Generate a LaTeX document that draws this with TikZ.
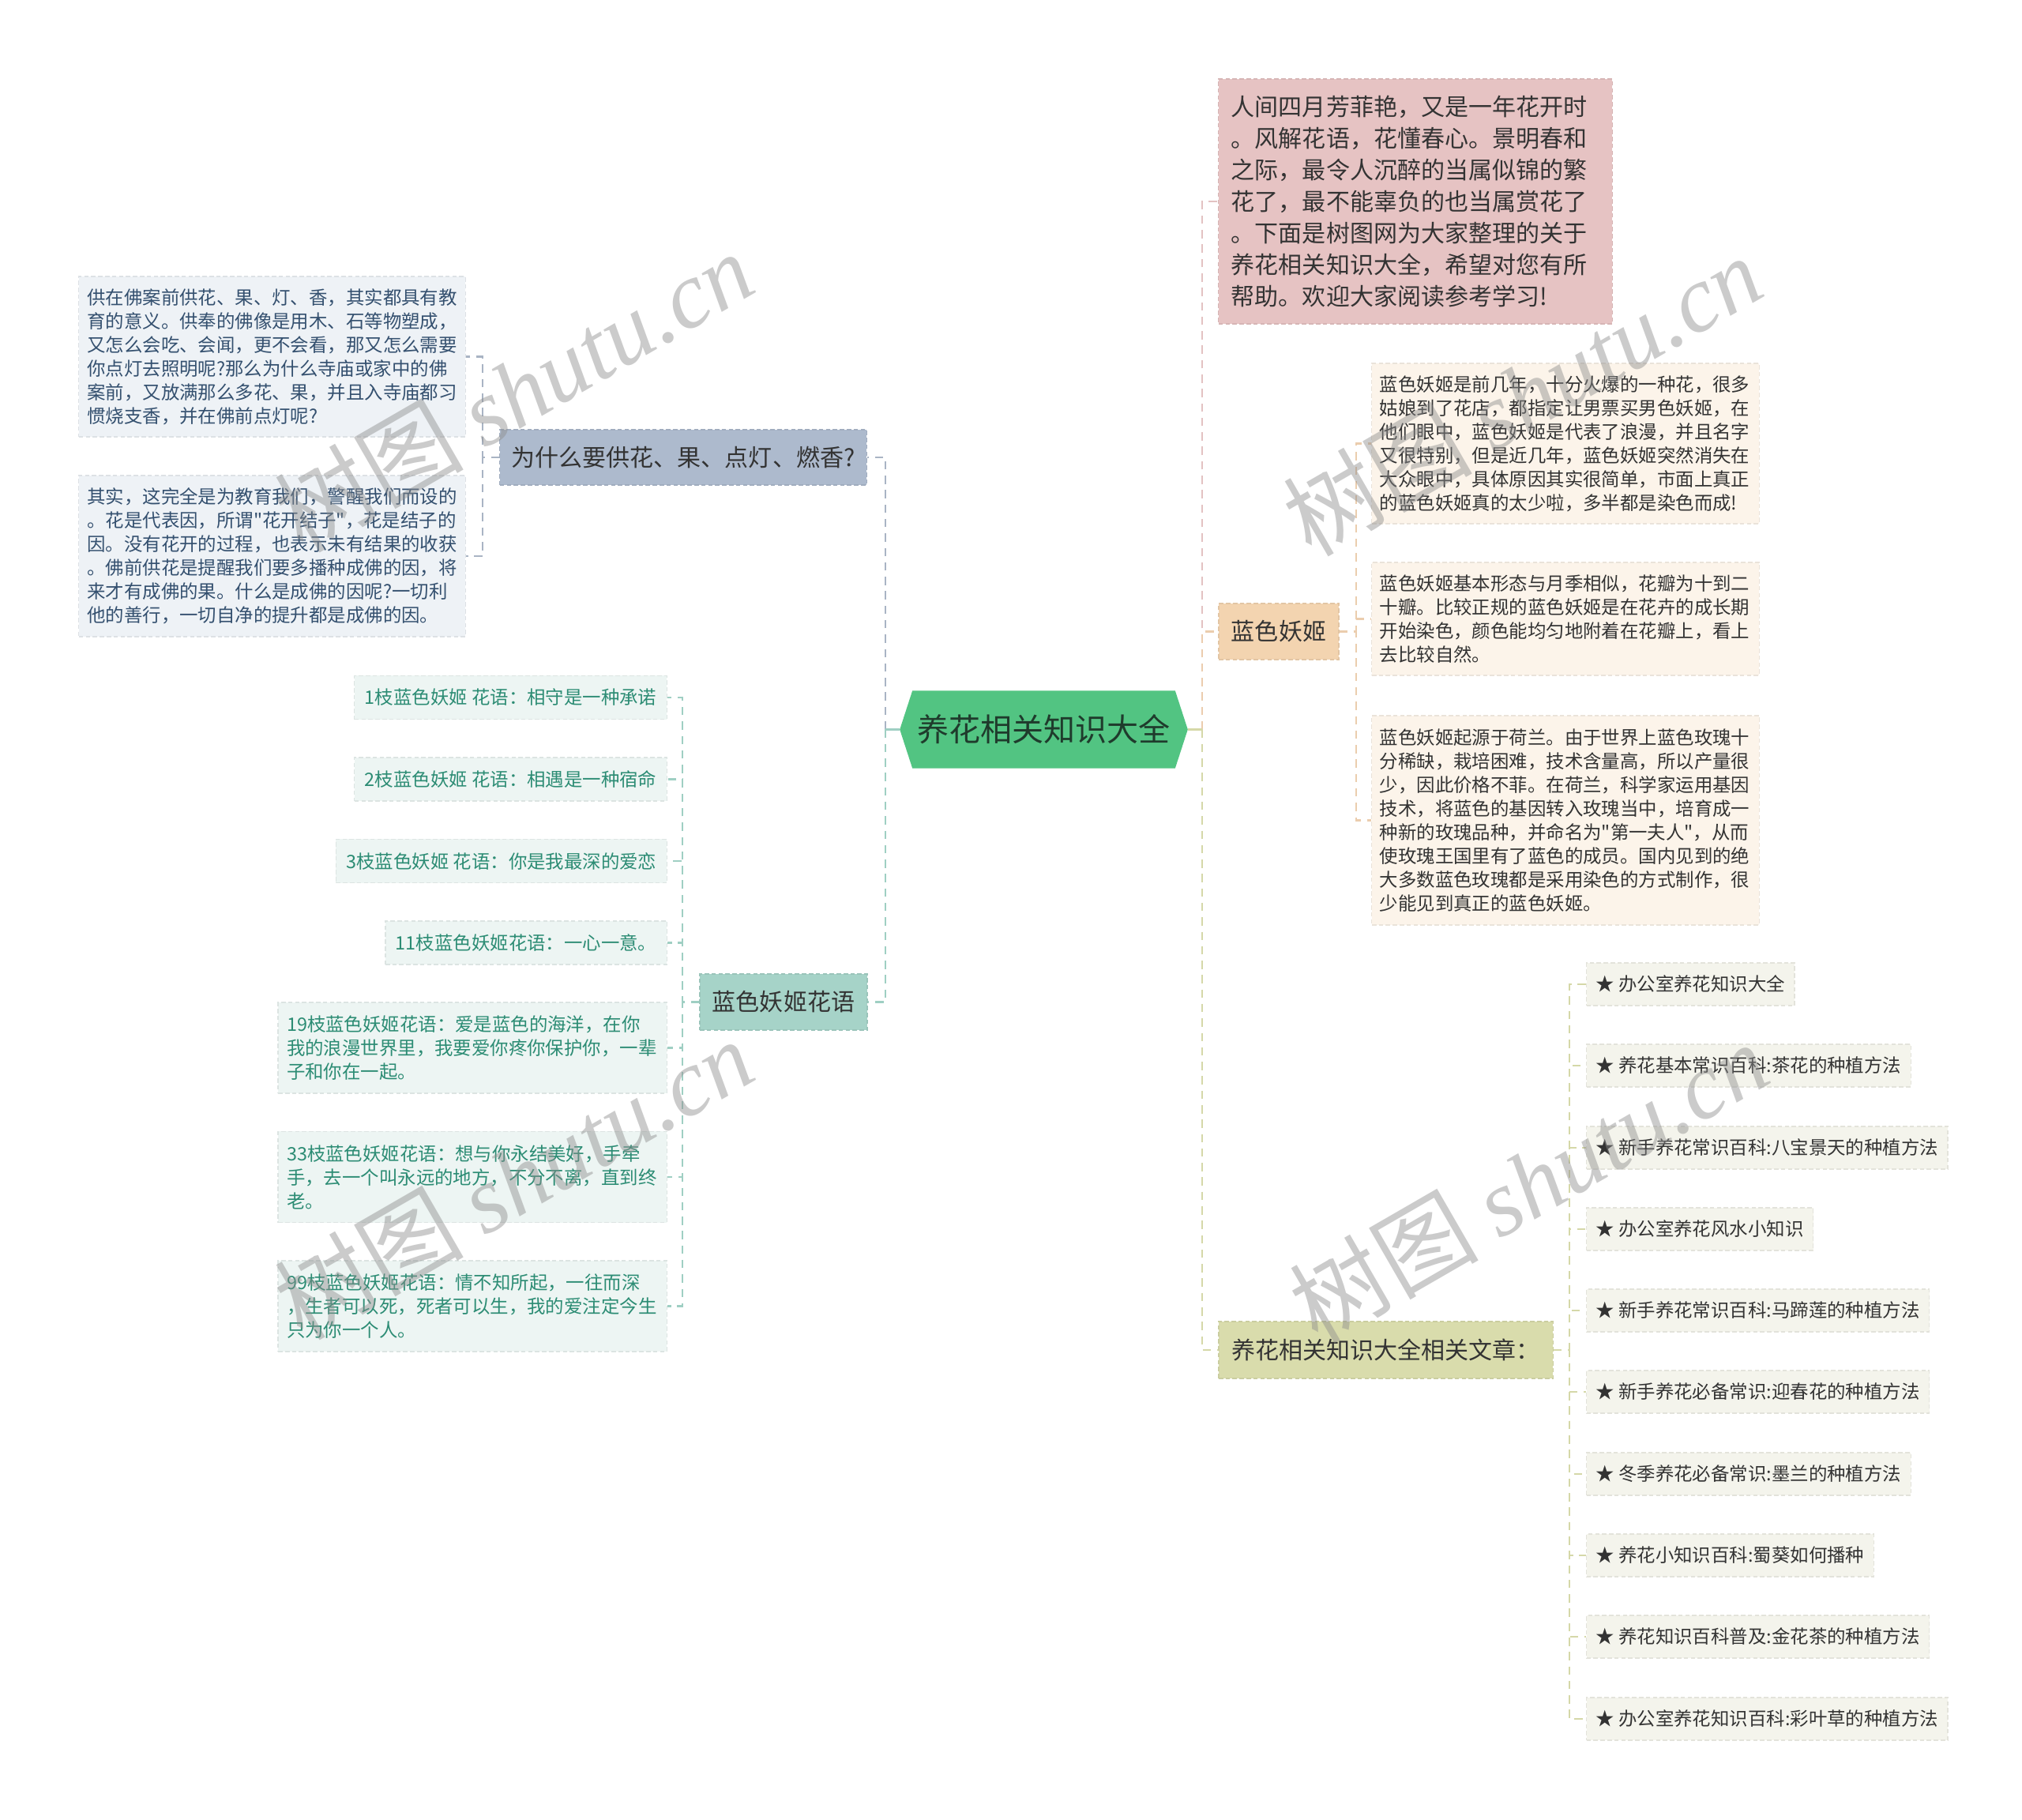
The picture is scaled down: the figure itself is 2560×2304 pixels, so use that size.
\documentclass[tikz,border=0pt]{standalone}
\usepackage{fontspec}
\setmainfont{Noto Sans CJK SC}[Ligatures=TeXOff]
\newfontfamily\wmlatin{Liberation Serif}
\usetikzlibrary{backgrounds}
\definecolor{rootfill}{HTML}{52C482}
\definecolor{roottext}{HTML}{1F3B2C}
\definecolor{bonefill}{HTML}{ADBACD}
\definecolor{btwofill}{HTML}{A6D3C8}
\definecolor{introfill}{HTML}{E6C3C3}
\definecolor{bfourfill}{HTML}{F3D4B0}
\definecolor{bfivefill}{HTML}{D9DCAC}
\definecolor{lfill}{HTML}{EEF2F6}
\definecolor{ltext}{HTML}{34506F}
\definecolor{tfill}{HTML}{EDF5F3}
\definecolor{ttext}{HTML}{2C8C74}
\definecolor{pfill}{HTML}{FCF4EA}
\definecolor{afill}{HTML}{F4F4EC}
\definecolor{darktext}{HTML}{333333}
\definecolor{cone}{HTML}{A9B4C4}
\definecolor{ctwo}{HTML}{9FCFC3}
\definecolor{cintro}{HTML}{E3C2C2}
\definecolor{cfour}{HTML}{EBCDAE}
\definecolor{cfive}{HTML}{D5D8A8}
\newcommand\ftleaf{\fontsize{6.66pt}{8.54pt}\selectfont}
\newcommand\ftbranch{\fontsize{8.54pt}{11.38pt}\selectfont}
\newcommand\ftroot{\fontsize{11.38pt}{13.5pt}\selectfont}
\newcommand\ftwm{\fontsize{34pt}{40pt}\selectfont}
\tikzset{
  boxbase/.style={rectangle, inner ysep=0pt, align=left},
  boxedge/.style={draw=#1!93!black, dash pattern=on 1.6pt off 0.9pt, line width=0.35pt},
  branch/.style={boxbase, fill=#1, boxedge=#1, font=\ftbranch, text=darktext, inner xsep=0pt, align=center},
  leafl/.style={boxbase, fill=lfill, boxedge=lfill, font=\ftleaf, text=ltext, inner xsep=0.105cm, text width=4.68cm},
  leaft/.style={boxbase, fill=tfill, boxedge=tfill, font=\ftleaf, text=ttext, inner xsep=0.13cm, anchor=east},
  leaftm/.style={leaft, inner xsep=0.11cm, text width=4.70cm, minimum height=1.15cm},
  leafp/.style={boxbase, fill=pfill, boxedge=pfill, font=\ftleaf, text=darktext, inner xsep=0.10cm, text width=4.70cm},
  leafa/.style={boxbase, fill=afill, boxedge=afill, font=\ftleaf, text=darktext, inner xsep=0.12cm, anchor=west, minimum height=0.54cm},
  conn/.style={line width=0.6pt, dash pattern=on 3pt off 2.2pt},
  stub/.style={line width=0.6pt},
  wm/.style={font=\ftwm, text=black!45, opacity=0.45, rotate=30, inner sep=0pt}
}
\begin{document}
\begin{tikzpicture}[x=0.01cm,y=-0.01cm]
\useasboundingbox (0,0) rectangle (2560,2304);

% root
\node[font=\ftroot, text=roottext, minimum width=3.63cm, minimum height=0.97cm, inner sep=0pt] (c) at (1321.5,923.5) {养花相关知识大全};
\begin{scope}[on background layer]
\fill[white] (0,0) rectangle (2560,2304);
\fill[rootfill] (c.west) -- ([xshift=0.16cm]c.north west) -- ([xshift=-0.16cm]c.north east) -- (c.east) -- ([xshift=-0.16cm]c.south east) -- ([xshift=0.16cm]c.south west) -- cycle;
\end{scope}

% left branches
\node[branch=bonefill, minimum width=4.64cm, minimum height=0.70cm] (b1) at (865,579) {为什么要供花、果、点灯、燃香?};
\node[branch=btwofill, minimum width=2.12cm, minimum height=0.71cm] (b2) at (992,1268.5) {蓝色妖姬花语};

\node[leafl, minimum height=2.03cm] (l1) at (344.5,451.5) {供在佛案前供花、果、灯、香，其实都具有教\\育的意义。供奉的佛像是用木、石等物塑成，\\又怎么会吃、会闻，更不会看，那又怎么需要\\你点灯去照明呢?那么为什么寺庙或家中的佛\\案前，又放满那么多花、果，并且入寺庙都习\\惯烧支香，并在佛前点灯呢?};
\node[leafl, minimum height=2.04cm] (l2) at (344.5,704) {其实，这完全是为教育我们，警醒我们而设的\\。花是代表因，所谓"花开结子"，花是结子的\\因。没有花开的过程，也表示未有结果的收获\\。佛前供花是提醒我们要多播种成佛的因，将\\来才有成佛的果。什么是成佛的因呢?一切利\\他的善行，一切自净的提升都是成佛的因。};

\node[leaft, minimum height=0.55cm] (t1) at (845,883) {1枝蓝色妖姬 花语：相守是一种承诺};
\node[leaft, minimum height=0.55cm] (t2) at (845,986.5) {2枝蓝色妖姬 花语：相遇是一种宿命};
\node[leaft, minimum height=0.55cm] (t3) at (845,1090) {3枝蓝色妖姬 花语：你是我最深的爱恋};
\node[leaft, minimum height=0.55cm] (t4) at (845,1193.5) {11枝蓝色妖姬花语：一心一意。};
\node[leaftm] (t5) at (845,1326.5) {19枝蓝色妖姬花语：爱是蓝色的海洋，在你\\我的浪漫世界里，我要爱你疼你保护你，一辈\\子和你在一起。};
\node[leaftm] (t6) at (845,1490) {33枝蓝色妖姬花语：想与你永结美好，手牵\\手，去一个叫永远的地方，不分不离，直到终\\老。};
\node[leaftm] (t7) at (845,1653.5) {99枝蓝色妖姬花语：情不知所起，一往而深\\，生者可以死，死者可以生，我的爱注定今生\\只为你一个人。};

% right branches
\node[boxbase, fill=introfill, boxedge=introfill, font=\ftbranch, text=darktext, inner xsep=0.16cm, text width=4.66cm, minimum height=3.10cm] (intro) at (1792,255) {人间四月芳菲艳，又是一年花开时\\。风解花语，花懂春心。景明春和\\之际，最令人沉醉的当属似锦的繁\\花了，最不能辜负的也当属赏花了\\。下面是树图网为大家整理的关于\\养花相关知识大全，希望对您有所\\帮助。欢迎大家阅读参考学习!};
\node[branch=bfourfill, minimum width=1.52cm, minimum height=0.71cm] (b4) at (1619,799.5) {蓝色妖姬};
\node[branch=bfivefill, minimum width=4.23cm, minimum height=0.72cm] (b5) at (1754.5,1709) {养花相关知识大全相关文章：};

\node[leafp, minimum height=2.03cm] (p1) at (1982,561.5) {蓝色妖姬是前几年，十分火爆的一种花，很多\\姑娘到了花店，都指定让男票买男色妖姬，在\\他们眼中，蓝色妖姬是代表了浪漫，并且名字\\又很特别，但是近几年，蓝色妖姬突然消失在\\大众眼中，具体原因其实很简单，市面上真正\\的蓝色妖姬真的太少啦，多半都是染色而成!};
\node[leafp, minimum height=1.43cm] (p2) at (1982,783.5) {蓝色妖姬基本形态与月季相似，花瓣为十到二\\十瓣。比较正规的蓝色妖姬是在花卉的成长期\\开始染色，颜色能均匀地附着在花瓣上，看上\\去比较自然。};
\node[leafp, minimum height=2.65cm] (p3) at (1982,1038.5) {蓝色妖姬起源于荷兰。由于世界上蓝色玫瑰十\\分稀缺，栽培困难，技术含量高，所以产量很\\少，因此价格不菲。在荷兰，科学家运用基因\\技术，将蓝色的基因转入玫瑰当中，培育成一\\种新的玫瑰品种，并命名为"第一夫人"，从而\\使玫瑰王国里有了蓝色的成员。国内见到的绝\\大多数蓝色玫瑰都是采用染色的方式制作，很\\少能见到真正的蓝色妖姬。};

\node[leafa] (a1) at (2008,1246) {★ 办公室养花知识大全};
\node[leafa] (a2) at (2008,1349) {★ 养花基本常识百科:茶花的种植方法};
\node[leafa] (a3) at (2008,1453) {★ 新手养花常识百科:八宝景天的种植方法};
\node[leafa] (a4) at (2008,1556) {★ 办公室养花风水小知识};
\node[leafa] (a5) at (2008,1659) {★ 新手养花常识百科:马蹄莲的种植方法};
\node[leafa] (a6) at (2008,1762) {★ 新手养花必备常识:迎春花的种植方法};
\node[leafa] (a7) at (2008,1866) {★ 冬季养花必备常识:墨兰的种植方法};
\node[leafa] (a8) at (2008,1969) {★ 养花小知识百科:蜀葵如何播种};
\node[leafa] (a9) at (2008,2072) {★ 养花知识百科普及:金花茶的种植方法};
\node[leafa] (a10) at (2008,2176) {★ 办公室养花知识百科:彩叶草的种植方法};

% connectors left
\coordinate (jL) at (1121,923.5);
\draw[conn, cone] (jL) |- (b1.east);
\draw[conn, ctwo] (jL) |- (b2.east);
\draw[stub, ctwo] (c.west) -- (jL);
\foreach \n in {l1,l2} \draw[conn, cone] (b1.west) -- ++(-21,0) |- (\n.east);
\foreach \n in {t1,t2,t3,t4,t5,t6,t7} \draw[conn, ctwo] (b2.west) -- ++(-21,0) |- (\n.east);

% connectors right
\coordinate (jR) at (1522,923.5);
\draw[conn, cintro] (jR) |- (intro.west);
\draw[conn, cfour] (jR) |- (b4.west);
\draw[conn, cfive] (jR) |- (b5.west);
\draw[stub, cfive] (c.east) -- (jR);
\foreach \n in {p1,p2,p3} \draw[conn, cfour] (b4.east) -- ++(21,0) |- (\n.west);
\foreach \n in {a1,a2,a3,a4,a5,a6,a7,a8,a9,a10} \draw[conn, cfive] (b5.east) -- ++(20,0) |- (\n.west);

% watermarks
\node[wm] (w1) at (650,495) {树图 {\wmlatin\itshape shutu.cn}};
\node[wm] (w2) at (1927,500) {树图 {\wmlatin\itshape shutu.cn}};
\node[wm] (w3) at (650,1492) {树图 {\wmlatin\itshape shutu.cn}};
\node[wm] (w4) at (1935,1496) {树图 {\wmlatin\itshape shutu.cn}};
\end{tikzpicture}
\end{document}
